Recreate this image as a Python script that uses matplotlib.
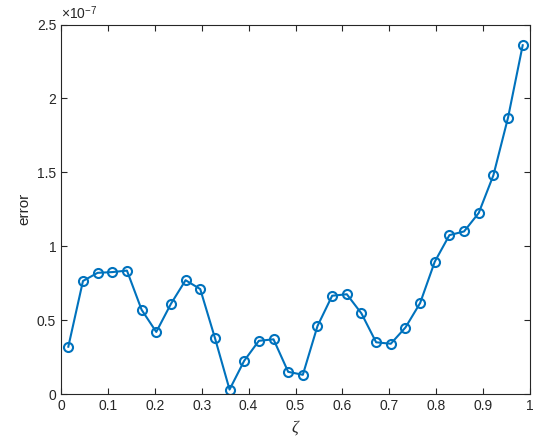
import numpy as np
import matplotlib.pyplot as plt

plt.rcParams['font.family'] = ['Liberation Sans', 'DejaVu Sans']
plt.rcParams['mathtext.fontset'] = 'custom'
plt.rcParams['mathtext.rm'] = 'Liberation Sans'
plt.rcParams['mathtext.it'] = 'Liberation Serif:italic'

# grid midpoints and measured error
zeta = (np.arange(1, 33) - 0.5) / 32
error = np.array([0.32, 0.765, 0.82, 0.825, 0.835, 0.57, 0.42, 0.61,
                  0.77, 0.71, 0.38, 0.03, 0.225, 0.36, 0.37, 0.15,
                  0.13, 0.46, 0.665, 0.675, 0.545, 0.35, 0.34, 0.45,
                  0.615, 0.895, 1.075, 1.10, 1.225, 1.48, 1.87, 2.36]) * 1e-7

xticks = np.arange(0, 1.01, 0.1)
xlabels = ['0', '0.1', '0.2', '0.3', '0.4', '0.5', '0.6', '0.7', '0.8', '0.9', '1']
yticks = np.arange(0, 2.51e-7, 0.5e-7)
ylabels = ['0', '0.5', '1', '1.5', '2', '2.5']

fig = plt.figure(figsize=(5.35, 4.43), dpi=100)
ax = fig.add_axes([0.114, 0.1106, 0.8767, 0.834])

ax.plot(zeta, error, '-o', color='#0072BD', lw=1.5, ms=6.5,
        mfc='none', mew=1.5)

ax.set_xlim(0, 1)
ax.set_ylim(0, 2.5e-7)
ax.set_xticks(xticks)
ax.set_xticklabels(xlabels)
ax.set_yticks(yticks)
ax.set_yticklabels(ylabels)
ax.text(0, 1.008, r'$\times10^{-7}$', transform=ax.transAxes,
        fontsize=10, color='#262626', ha='left', va='bottom')

ax.tick_params(direction='in', top=True, right=True, labelsize=10,
               colors='#262626', length=4, width=0.8)
for s in ax.spines.values():
    s.set_color('#262626')
    s.set_linewidth(0.8)

ax.set_xlabel(r'$\zeta$', fontsize=12, color='#262626')
ax.set_ylabel('error', fontsize=11, color='#262626')

fig.savefig('out.png', dpi=100)
